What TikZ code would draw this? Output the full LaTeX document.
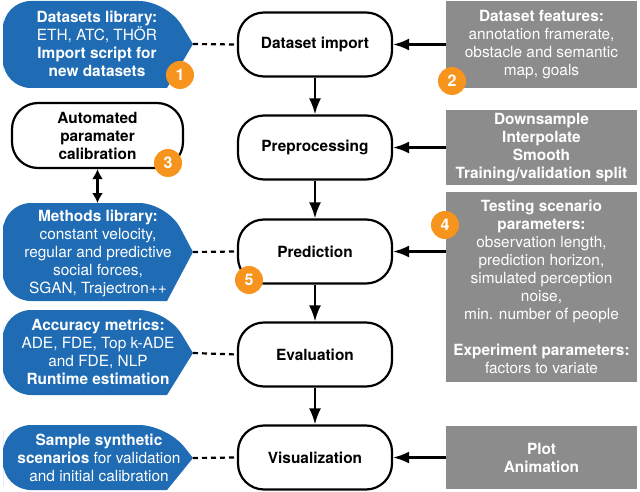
\documentclass[tikz,border=0pt]{standalone}
\usepackage{fontspec}
\setmainfont{TeX Gyre Heros}
\usetikzlibrary{arrows.meta}
\definecolor{blueshape}{RGB}{31,108,180}
\definecolor{graybox}{RGB}{140,140,140}
\definecolor{badgecol}{RGB}{247,148,29}
\begin{document}
\begin{tikzpicture}[x=1pt,y=-1pt,
  mainnode/.style={draw=black, line width=2.2pt, rounded corners=26pt, minimum width=154pt, minimum height=64pt, fill=white, font=\fontsize{15.4}{18}\selectfont\bfseries, align=center},
  calnode/.style={draw=black, line width=2.2pt, rounded corners=26pt, minimum width=171pt, minimum height=65pt, fill=white, font=\fontsize{15.4}{18}\selectfont\bfseries, align=center},
  bluetext/.style={text=white, font=\fontsize{15.4}{18}\selectfont, align=center, inner sep=0pt},
  graynode/.style={fill=graybox, text=white, font=\fontsize{15.4}{18}\selectfont, align=center, inner sep=0pt},
  badge/.style={circle, fill=badgecol, text=white, font=\fontsize{16}{16}\selectfont\bfseries, minimum size=28pt, inner sep=0pt},
  arr/.style={line width=2.2pt, -{Latex[length=16pt,width=12pt]}},
  darr/.style={line width=2.2pt, {Latex[length=10pt,width=11pt]}-{Latex[length=10pt,width=11pt]}},
  dline/.style={line width=2.2pt, dash pattern=on 5pt off 4pt},
  blueshp/.style={fill=blueshape}
]
\useasboundingbox (0,0) rectangle (640,492);

% blue shapes
\fill[blueshp] (3,44) [rounded corners=28pt] -- (3,1) -- (167,1) [sharp corners] -- (193,44) -- (167,88) [rounded corners=28pt] -- (3,88) -- cycle;
\coordinate (b1tip) at (193,44);
\fill[blueshp] (3,252) [rounded corners=28pt] -- (3,203) -- (167,203) [sharp corners] -- (193,252) -- (167,301) [rounded corners=28pt] -- (3,301) -- cycle;
\coordinate (b3tip) at (193,252);
\coordinate (b3top) at (97.5,203);
\fill[blueshp] (3,353) [rounded corners=28pt] -- (3,310) -- (167,310) [sharp corners] -- (193,353) -- (167,395) [rounded corners=28pt] -- (3,395) -- cycle;
\coordinate (b4tip) at (193,353);
\fill[blueshp] (3,458) [rounded corners=28pt] -- (3,425) -- (167,425) [sharp corners] -- (193,458) -- (167,490) [rounded corners=28pt] -- (3,490) -- cycle;
\coordinate (b5tip) at (193,458);

\node[bluetext] (b1) at (97,44) {\textbf{Datasets library:}\\ETH, ATC, THÖR\\\textbf{Import script for}\\\textbf{new datasets}};
\node[bluetext] (b3) at (98,253) {\textbf{Methods library:}\\constant velocity,\\regular and predictive\\social forces,\\SGAN, Trajectron++};
\node[bluetext] (b4) at (98,352) {\textbf{Accuracy metrics:}\\ADE, FDE, Top k-ADE\\and FDE, NLP\\\textbf{Runtime estimation}};
\node[bluetext] (b5) at (99,458) {\textbf{Sample synthetic}\\\textbf{scenarios} for validation\\and initial calibration};

% main nodes
\node[mainnode] (imp) at (315,44.5) {Dataset import};
\node[mainnode] (pre) at (315,147.5) {Preprocessing};
\node[mainnode] (pred) at (315,251.5) {Prediction};
\node[mainnode] (eval) at (315,354.5) {Evaluation};
\node[mainnode] (vis) at (315,457.5) {Visualization};

\node[calnode] (cal) at (97.5,135.5) {Automated\\paramater\\calibration};

% gray boxes
\node[graynode, minimum width=191pt, minimum height=87pt] (g1) at (541.5,44.5) {\textbf{Dataset features:}\\annotation framerate,\\obstacle and semantic\\map, goals};
\node[graynode, minimum width=191pt, minimum height=75pt] (g2) at (541.5,147.5) {\textbf{Downsample}\\\textbf{Interpolate}\\\textbf{Smooth}\\\textbf{Training/validation split}};
\node[graynode, minimum width=191pt, minimum height=190pt] (g3) at (541.5,287) {\textbf{Testing scenario}\\\textbf{parameters:}\\observation length,\\prediction horizon,\\simulated perception\\noise,\\min. number of people\\[18pt]\textbf{Experiment parameters:}\\factors to variate};
\node[graynode, minimum width=191pt, minimum height=63pt] (g5) at (541.5,457.5) {\textbf{Plot}\\\textbf{Animation}};

% connectors
\draw[arr] (imp) -- (pre);
\draw[arr] (pre) -- (pred);
\draw[arr] (pred) -- (eval);
\draw[arr] (eval) -- (vis);
\draw[arr] (g1.west |- imp.east) -- (imp.east);
\draw[arr] (g2.west |- pre.east) -- (pre.east);
\draw[arr] (g3.west |- pred.east) -- (pred.east);
\draw[arr] (g5.west |- vis.east) -- (vis.east);
\draw[dline] (b1tip) -- (imp.west);
\draw[dline] (b3tip) -- (pred.west);
\draw[dline] (b4tip) -- (eval.west);
\draw[dline] (b5tip) -- (vis.west);
\draw[darr] (cal.south) -- (b3top);

% badges
\node[badge] (n1) at (180,75) {1};
\node[badge] (n2) at (452,81) {2};
\node[badge] (n3) at (168,163) {3};
\node[badge] (n4) at (445,225) {4};
\node[badge] (n5) at (249,280) {5};
\end{tikzpicture}
\end{document}
